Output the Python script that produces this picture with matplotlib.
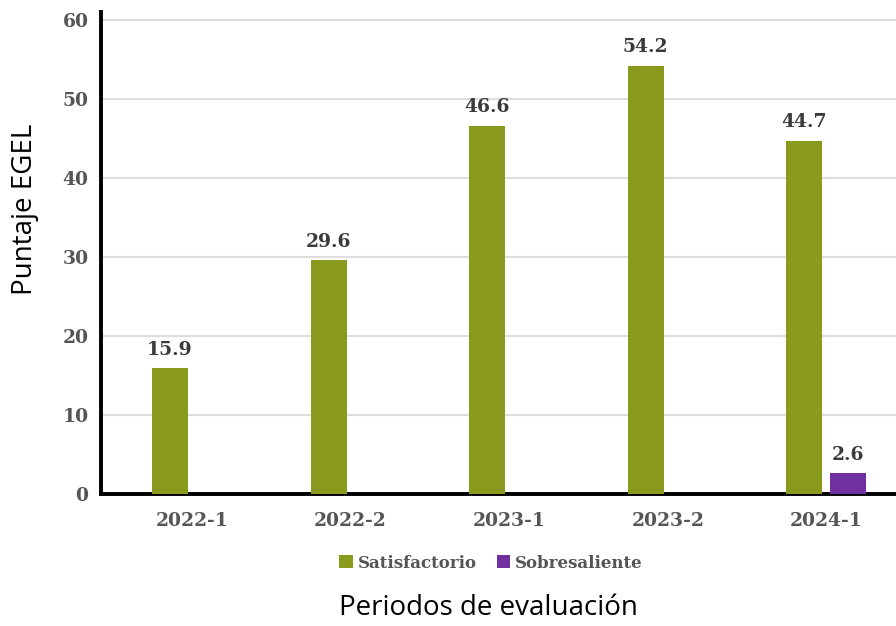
import numpy as np
import matplotlib
matplotlib.use('Agg')
import matplotlib.pyplot as plt

periods = ["2022-1", "2022-2", "2023-1", "2023-2", "2024-1"]
satisfactorio = [15.9, 29.6, 46.6, 54.2, 44.7]
sobresaliente = [np.nan, np.nan, np.nan, np.nan, 2.6]
y_ticks = [0, 10, 20, 30, 40, 50, 60]

green = "#8a9a1c"
purple = "#7030a0"
serif = ["DejaVu Serif"]

fig = plt.figure(figsize=(8.96, 6.26), dpi=100)
ax = fig.add_axes([0.1127, 0.2109, 0.8873, 0.7700])

x = np.arange(len(periods))
w = 0.227
off = 0.139
b1 = ax.bar(x - off, satisfactorio, width=w, color=green, label="Satisfactorio", zorder=3)
b2 = ax.bar(x + off, sobresaliente, width=w, color=purple, label="Sobresaliente", zorder=3)

for bars, vals in ((b1, satisfactorio), (b2, sobresaliente)):
    for rect, v in zip(bars, vals):
        if np.isnan(v):
            continue
        ax.text(rect.get_x() + rect.get_width() / 2, v + 1.2, f"{v:.1f}",
                ha="center", va="bottom", fontsize=13.5, fontweight="bold",
                family=serif, color="#3a3a3a")

ax.set_xlim(-0.574, 4.44)
ax.set_ylim(0, 61)
ax.set_xticks(x)
ax.set_xticklabels(periods)
ax.set_yticks(y_ticks)
for lbl in ax.get_xticklabels() + ax.get_yticklabels():
    lbl.set_family(serif)
    lbl.set_fontsize(13.5)
    lbl.set_fontweight("bold")
    lbl.set_color("#555555")
ax.tick_params(axis="both", length=0)
ax.tick_params(axis="x", pad=13)
ax.tick_params(axis="y", pad=9)

ax.grid(axis="y", color="#dddddd", linewidth=1.5, zorder=0)
ax.set_axisbelow(True)
for s in ("top", "right"):
    ax.spines[s].set_visible(False)
for s in ("left", "bottom"):
    ax.spines[s].set_linewidth(2.8)
    ax.spines[s].set_color("black")

fig.legend(handles=[b1, b2], loc="center", bbox_to_anchor=(0.548, 0.1006), ncol=2,
           frameon=False, prop={"family": serif, "size": 12, "weight": "bold"},
           handlelength=0.8, handleheight=0.8, handletextpad=0.3, columnspacing=1.2,
           labelcolor="#555555")

fig.text(0.028, 0.665, "Puntaje EGEL", rotation=90, ha="center", va="center",
         fontsize=20, family=["Open Sans"], color="black")
fig.text(0.545, 0.029, "Periodos de evaluación", ha="center", va="center",
         fontsize=20, family=["Open Sans"], color="black")

fig.savefig("out.png", dpi=100)
